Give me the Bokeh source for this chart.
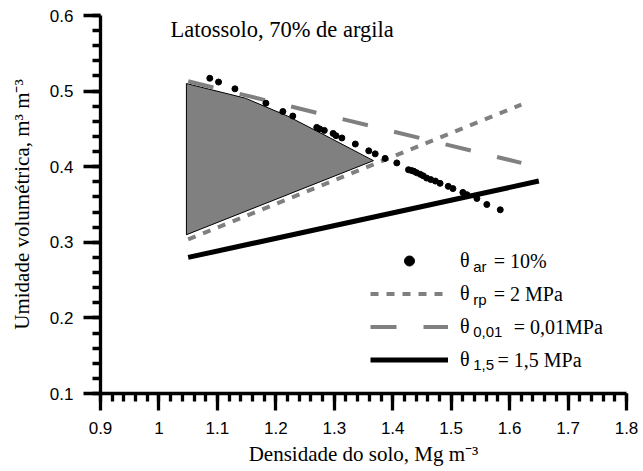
from bokeh.plotting import figure
from bokeh.models import FixedTicker, Label, Legend, LegendItem, Range1d
from bokeh.embed import file_html
from bokeh.resources import INLINE

# ---- data ----
x_ticks = [0.9, 1.0, 1.1, 1.2, 1.3, 1.4, 1.5, 1.6, 1.7, 1.8]
x_tick_labels = ["0.9", "1", "1.1", "1.2", "1.3", "1.4", "1.5", "1.6", "1.7", "1.8"]
y_ticks = [0.1, 0.2, 0.3, 0.4, 0.5, 0.6]
y_tick_labels = ["0.1", "0.2", "0.3", "0.4", "0.5", "0.6"]

# theta_ar = 10% (points)
ar_density = [1.087, 1.102, 1.130, 1.183, 1.212, 1.229, 1.270, 1.275, 1.283, 1.298,
              1.303, 1.313, 1.336, 1.359, 1.370, 1.387, 1.407, 1.427, 1.432, 1.436,
              1.441, 1.447, 1.452, 1.458, 1.465, 1.473, 1.481, 1.495, 1.503, 1.520,
              1.527, 1.544, 1.561, 1.584]
ar_theta = [0.517, 0.512, 0.503, 0.484, 0.473, 0.467, 0.452, 0.450, 0.448, 0.444,
            0.441, 0.438, 0.430, 0.421, 0.417, 0.411, 0.405, 0.396, 0.395, 0.394,
            0.392, 0.390, 0.388, 0.385, 0.383, 0.381, 0.378, 0.374, 0.371, 0.366,
            0.363, 0.358, 0.350, 0.343]

# theta_rp = 2 MPa
rp_density = [1.05, 1.62]
rp_theta = [0.304, 0.482]

# theta_0,01 = 0,01 MPa
cc_density = [1.05, 1.62]
cc_theta = [0.513, 0.405]

# theta_1,5 = 1,5 MPa
pmp_density = [1.05, 1.65]
pmp_theta = [0.280, 0.381]

# shaded region
iho_density = [1.047, 1.148, 1.22, 1.293, 1.367, 1.047]
iho_theta = [0.510, 0.4906, 0.467, 0.438, 0.408, 0.310]

legend_sub = ["ar", "rp", "0,01", "1,5"]
legend_main = ["= 10%", "= 2 MPa", "= 0,01MPa", "= 1,5 MPa"]

GRAY = "#808080"

p = figure(width=643, height=471, output_backend="svg", toolbar_location=None,
           x_range=Range1d(0.9, 1.8), y_range=Range1d(0.1, 0.6),
           min_border_left=100, min_border_right=17, min_border_top=15, min_border_bottom=78,
           x_axis_label="Densidade do solo, Mg m⁻³",
           y_axis_label="Umidade volumétrica, m³ m⁻³")
p.outline_line_color = None
p.xgrid.visible = False
p.ygrid.visible = False
p.background_fill_color = "white"
p.border_fill_color = "white"

x_minor = [round(0.9 + 0.02 * i, 2) for i in range(46)]
y_minor = [round(0.1 + 0.02 * i, 2) for i in range(26)]
p.xaxis[0].ticker = FixedTicker(ticks=x_ticks, minor_ticks=x_minor)
p.yaxis[0].ticker = FixedTicker(ticks=y_ticks, minor_ticks=y_minor)
p.xaxis[0].major_label_overrides = dict(zip(x_ticks, x_tick_labels))
p.yaxis[0].major_label_overrides = dict(zip(y_ticks, y_tick_labels))

for ax in (p.xaxis[0], p.yaxis[0]):
    ax.axis_line_width = 3.3
    ax.axis_line_color = "black"
    ax.major_tick_line_width = 3.3
    ax.minor_tick_line_width = 3.3
    ax.major_tick_out = 17
    ax.major_tick_in = 0
    ax.minor_tick_out = 8
    ax.minor_tick_in = 0
    ax.major_label_text_font = "Liberation Sans"
    ax.major_label_text_font_size = "17px"
    ax.major_label_text_color = "black"
    ax.axis_label_text_font = "Liberation Serif"
    ax.axis_label_text_font_size = "21px"
    ax.axis_label_text_font_style = "normal"
    ax.axis_label_text_color = "black"

p.xaxis[0].major_label_standoff = 11
p.xaxis[0].axis_label_standoff = 5
p.yaxis[0].major_label_standoff = 10
p.yaxis[0].axis_label_standoff = 13

# shaded region
p.patch(iho_density, iho_theta, fill_color=GRAY, line_color="black", line_width=1)

r_rp = p.line(rp_density, rp_theta, line_color=GRAY, line_width=4, line_dash="8 8")
r_cc = p.line(cc_density, cc_theta, line_color=GRAY, line_width=4, line_dash="26 27")
r_pmp = p.line(pmp_density, pmp_theta, line_color="black", line_width=5)
r_ar = p.scatter(ar_density, ar_theta, size=6, fill_color="black", line_color="black")

legend = Legend(items=[LegendItem(label="θ", renderers=[r_ar]),
                       LegendItem(label="θ", renderers=[r_rp]),
                       LegendItem(label="θ", renderers=[r_cc]),
                       LegendItem(label="θ", renderers=[r_pmp])],
                location=(270, 21), orientation="vertical",
                glyph_width=78, glyph_height=25, label_height=25, spacing=8,
                padding=0, margin=0, label_standoff=12,
                border_line_alpha=0, background_fill_alpha=0,
                label_text_font="Liberation Serif", label_text_font_size="20px",
                label_text_color="black")
p.add_layout(legend)

row_y = [132.5, 99.5, 66.5, 33.5]
main_x = [393.3, 393.3, 413.3, 397.0]
for sub, main, yy, mx in zip(legend_sub, legend_main, row_y, main_x):
    p.add_layout(Label(x=372.7, y=yy - 5, x_units="screen", y_units="screen", text=sub,
                       text_font="Liberation Sans", text_font_size="15px",
                       text_baseline="middle", text_color="black"))
    p.add_layout(Label(x=mx, y=yy, x_units="screen", y_units="screen", text=main,
                       text_font="Liberation Serif", text_font_size="20px",
                       text_baseline="middle", text_color="black"))

p.add_layout(Label(x=70, y=363.7, x_units="screen", y_units="screen",
                   text="Latossolo, 70% de argila", text_font="Liberation Serif",
                   text_font_size="22.5px", text_baseline="alphabetic", text_color="black"))

open("out.html", "w").write(file_html(p, INLINE))
